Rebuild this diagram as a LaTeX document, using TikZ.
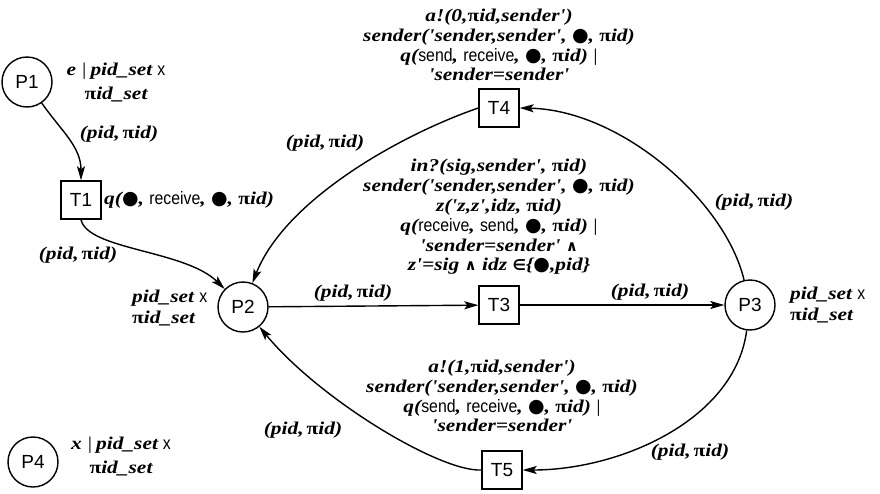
\documentclass[tikz,border=0pt]{standalone}
\usepackage{fontspec}
\setmainfont{Liberation Serif}
\setsansfont{Liberation Sans}
\newfontfamily\lblfont[FakeStretch=1.19]{Liberation Serif}
\newfontfamily\narrowsans[FakeStretch=0.88]{Liberation Sans}
\newfontfamily\symfont{DejaVu Sans}
\usetikzlibrary{arrows.meta}
% small glyph helpers
\newcommand{\bul}{{\symfont\fontsize{19}{19}\selectfont ●}}
\newcommand{\piid}{{\upshape π}id}
\newcommand{\pp}{(pid,\,\piid)}
\newcommand{\sx}{{\narrowsans\mdseries\upshape x}}
\newcommand{\sfw}[1]{{\narrowsans\mdseries\upshape #1}}
\newcommand{\andop}{{\symfont\upshape\fontsize{15}{15}\selectfont ∧}}
\newcommand{\inop}{{\symfont\upshape\fontsize{15}{15}\selectfont ∈}}
\newcommand{\vbar}{{\mdseries\upshape |}}
\newcommand{\guard}[1]{#1\hspace{6pt}\vbar\hspace{4pt}pid\_set\hspace{5pt}\sx}
\begin{document}
\begin{tikzpicture}[x=1pt,y=-1pt,
  place/.style={circle,draw,line width=1.4pt,minimum size=50,inner sep=0pt,
    font=\sffamily\fontsize{19}{19}\selectfont},
  trans/.style={rectangle,draw,line width=1.4pt,minimum width=40,minimum height=38,inner sep=0pt,
    font=\sffamily\fontsize{19}{19}\selectfont},
  lbl/.style={font=\lblfont\bfseries\itshape\fontsize{18}{19.8}\selectfont,align=center,inner sep=0pt},
  plbl/.style={font=\lblfont\bfseries\itshape\fontsize{18}{24}\selectfont,align=center,inner sep=0pt},
  sidelbl/.style={plbl,align=left,anchor=west,font=\lblfont\bfseries\itshape\fontsize{18}{21}\selectfont},
  arr/.style={line width=1.4pt,-{Stealth[length=14pt,width=8pt,inset=3pt]}}]
\useasboundingbox (0,0) rectangle (880,493);

% places
\node[place] (P1) at (27,82) {P1};
\node[place] (P2) at (243,307) {P2};
\node[place] (P3) at (750,305) {P3};
\node[place] (P4) at (33,462) {P4};

% transitions
\node[trans] (T1) at (81,200) {T1};
\node[trans] (T3) at (499,305) {T3};
\node[trans] (T4) at (499,108) {T4};
\node[trans] (T5) at (502,470) {T5};

% place inscriptions
\node[plbl] (P1lab) at (116,83) {\guard{e}\\ \piid\_set};
\node[sidelbl] (P2lab) at (132,308) {pid\_set \sx\\ \piid\_set};
\node[sidelbl] (P3lab) at (790,305) {pid\_set \sx\\ \piid\_set};
\node[plbl] (P4lab) at (121,456) {\guard{x}\\ \piid\_set};

% transition inscriptions
\node[lbl,anchor=west] (T1lab) at (104,200) {q(\bul, \sfw{receive}, \bul, \piid)};
\node[lbl] (T4lab) at (499,45) {a!(0,\piid,sender')\\
  sender('sender,sender', \bul, \piid)\\
  q(\sfw{send}, \sfw{receive}, \bul, \piid) \vbar\\
  'sender=sender'};
\node[lbl] (T3lab) at (499,217) {in?(sig,sender', \piid)\\
  sender('sender,sender', \bul, \piid)\\
  z('z,z',idz, \piid)\\
  q(\sfw{receive}, \sfw{send}, \bul, \piid) \vbar\\
  'sender=sender' \andop\\
  z'=sig \andop\ idz \inop\{\bul,pid\}};
\node[lbl] (T5lab) at (502,396) {a!(1,\piid,sender')\\
  sender('sender,sender', \bul, \piid)\\
  q(\sfw{send}, \sfw{receive}, \bul, \piid) \vbar\\
  'sender=sender'};

% arcs
\draw[arr] (P1) to[out=-55,in=90] (T1);
\draw[arr] (T1.south) .. controls (88,250) and (185,250) .. (P2);
\draw[arr] (P2) -- (T3);
\draw[arr] (T3) -- (P3);
\draw[arr] (T4.west) .. controls (400,135) and (285,200) .. (P2);
\draw[arr] (P3) .. controls (725,200) and (620,110) .. (T4.east);
\draw[arr] (P3) .. controls (735,420) and (620,470) .. (T5.east);
\draw[arr] (T5.west) .. controls (440,472) and (320,400) .. (P2);

% arc inscriptions
\node[lbl] (a1) at (119,134) {\pp};
\node[lbl] (a2) at (78,255) {\pp};
\node[lbl] (a3) at (353,293) {\pp};
\node[lbl] (a4) at (650,292) {\pp};
\node[lbl] (a5) at (325,143) {\pp};
\node[lbl] (a6) at (754,202) {\pp};
\node[lbl] (a7) at (303,430) {\pp};
\node[lbl] (a8) at (690,452) {\pp};
\end{tikzpicture}
\end{document}
